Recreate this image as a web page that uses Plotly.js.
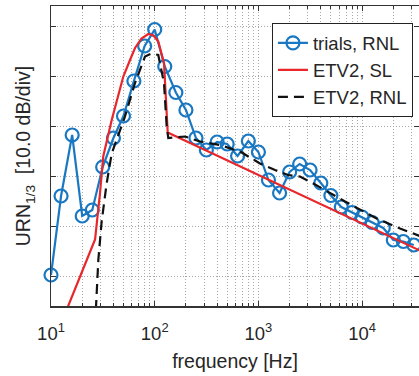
<!DOCTYPE html>
<html>
<head>
<meta charset="utf-8">
<script src="https://cdn.plot.ly/plotly-3.0.1.min.js"></script>
<style>html,body{margin:0;padding:0;background:#fff;}#chart{width:419px;height:376px;}</style>
</head>
<body>
<div id="chart"></div>
<script>
// trials, RNL (1/3-octave band centres)
var freqTrials = [10,12.5,16,20,25,31.5,40,50,63,80,100,125,160,200,250,315,400,500,630,800,1000,1250,1600,2000,2500,3150,4000,5000,6300,8000,10000,12500,16000,20000,25000,31500];
var urnTrials = [80.2,96.0,108.2,92.0,93.2,101.8,107.6,112.0,119.0,126.0,129.3,121.9,116.7,113.2,107.6,105.2,106.8,106.4,104.0,107.0,104.8,99.2,96.6,100.8,102.4,101.2,98.6,96.1,93.8,92.7,91.8,90.7,89.6,87.2,86.9,86.2];

// ETV2, SL
var freqSL = [14.0,26.6,29.7,31.9,38.5,49.8,57.8,64.6,74.6,86.8,97.4,108.3,122.9,130.5,133.5,36000];
var urnSL = [73.0,87.3,96.6,103.9,111.2,119.9,123.2,125.6,127.5,128.4,128.1,126.9,122.6,113.2,108.7,85.1];

// ETV2, RNL
var freqRNL = [26.6,28.6,30.8,34.4,38.5,51.7,64.6,80.6,93.6,108.3,122.9,130.5,135.2,196,273.5,426,664.6,1036,1446,1929,2518,3384,6842,13829,23206,36000];
var urnRNL = [70.0,83.2,90.9,98.5,104.5,111.9,118.6,123.9,124.5,124.2,118.6,109.9,107.6,107.9,106.9,106.2,104.9,102.5,101.2,100.2,99.9,98.5,94.9,91.5,89.5,88.0];

// axis ticks
var xTickVals = [10,100,1000,10000];
var xTickText = ['10<sup>1</sup>','10<sup>2</sup>','10<sup>3</sup>','10<sup>4</sup>'];
var yTickVals = [80,90,100,110,120,130];

var seriesNames = ['trials, RNL','ETV2, SL','ETV2, RNL'];

var minorVals = [];
for (var d = 10; d <= 10000; d *= 10) {
  for (var k = 2; k <= 9; k++) minorVals.push(d * k);
}

var FONT = 'Liberation Sans, Arial, Helvetica, sans-serif';
var gridCol = '#a8a8a8';
var gridDash = '1px,2px';
var axCol = '#333333';

var traces = [
  {
    x: freqTrials, y: urnTrials, name: seriesNames[0], type: 'scatter', mode: 'lines+markers',
    line: {color: '#1a78c2', width: 2.2},
    marker: {symbol: 'circle-open', size: 13, color: '#1a78c2', line: {width: 2.2, color: '#1a78c2'}},
    cliponaxis: false
  },
  {
    x: freqSL, y: urnSL, name: seriesNames[1], type: 'scatter', mode: 'lines',
    line: {color: '#e8262b', width: 2.2}
  },
  {
    x: freqRNL, y: urnRNL, name: seriesNames[2], type: 'scatter', mode: 'lines',
    line: {color: '#111111', width: 2.2, dash: '10px,6px'}
  }
];

var layout = {
  width: 419, height: 376,
  margin: {l: 51, r: 0, t: 6, b: 70},
  paper_bgcolor: '#ffffff', plot_bgcolor: '#ffffff',
  font: {family: FONT, color: '#262626'},
  showlegend: true,
  legend: {
    x: 0.983, xanchor: 'right', y: 0.943, yanchor: 'top',
    bgcolor: '#ffffff', bordercolor: '#222222', borderwidth: 1.2,
    font: {family: FONT, size: 18.5, color: '#262626'},
    tracegroupgap: 0
  },
  xaxis: {
    type: 'log', range: [1, 4.5487],
    tickmode: 'array', tickvals: xTickVals, ticktext: xTickText,
    ticks: 'inside', ticklen: 5, tickcolor: axCol,
    showline: true, linecolor: axCol, linewidth: 1.5, mirror: 'ticks',
    showgrid: true, gridcolor: gridCol, gridwidth: 1, griddash: gridDash,
    zeroline: false,
    minor: {tickmode: 'array', tickvals: minorVals, ticks: 'inside', ticklen: 3, tickcolor: axCol,
            showgrid: true, gridcolor: gridCol, gridwidth: 1, griddash: gridDash},
    tickfont: {family: FONT, size: 18.5, color: '#262626'},
    ticklabelstandoff: 10,
    title: {text: 'frequency [Hz]', font: {family: FONT, size: 19.5, color: '#262626'}, standoff: 11}
  },
  yaxis: {
    range: [74, 134],
    tickmode: 'array', tickvals: yTickVals,
    showticklabels: false,
    ticks: 'inside', ticklen: 5, tickcolor: axCol,
    showline: true, linecolor: axCol, linewidth: 1.5, mirror: 'ticks',
    showgrid: true, gridcolor: gridCol, gridwidth: 1, griddash: gridDash,
    zeroline: false,
    title: {text: 'URN<sub>1/3</sub>  [10.0 dB/div]', font: {family: FONT, size: 19.5, color: '#262626'}, standoff: 13}
  }
};

Plotly.newPlot('chart', traces, layout, {displayModeBar: false, staticPlot: true});
</script>
</body>
</html>
